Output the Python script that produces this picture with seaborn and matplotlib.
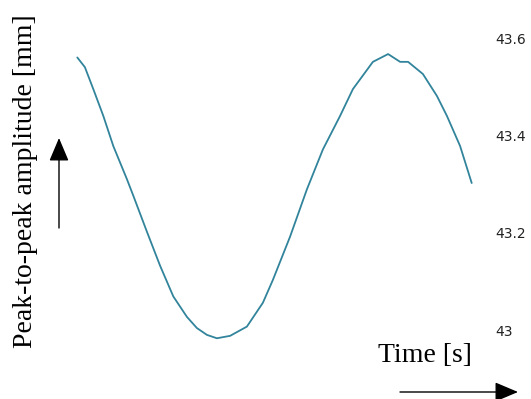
import matplotlib
matplotlib.use("Agg")
import matplotlib.pyplot as plt
import seaborn as sns
import pandas as pd

# Data
time_s = [0.0, 0.19, 0.40, 0.65, 0.90, 1.24, 1.40, 1.74, 2.07, 2.40, 2.74, 2.99,
          3.24, 3.49, 3.82, 4.24, 4.64, 4.89, 5.32, 5.74, 6.14, 6.57, 6.89, 7.39,
          7.77, 8.07, 8.27, 8.64, 8.99, 9.24, 9.57, 9.86]
amplitude_mm = [43.560, 43.540, 43.495, 43.440, 43.378, 43.310, 43.276, 43.202,
                43.132, 43.069, 43.027, 43.004, 42.990, 42.983, 42.988, 43.007,
                43.056, 43.103, 43.192, 43.289, 43.371, 43.440, 43.495, 43.551,
                43.567, 43.551, 43.551, 43.526, 43.481, 43.440, 43.378, 43.302]
y_ticks = [43.0, 43.2, 43.4, 43.6]
y_tick_labels = ["43", "43.2", "43.4", "43.6"]

df = pd.DataFrame({"Time": time_s, "Amplitude": amplitude_mm})

sns.set_style("white")
W, H = 531, 399
fig = plt.figure(figsize=(W / 100, H / 100), dpi=100)
left_px, right_px, top_px, bot_px = 77.3, 471.7, 38, 330
ax = fig.add_axes([left_px / W, 1 - bot_px / H, (right_px - left_px) / W, (bot_px - top_px) / H])

sns.lineplot(data=df, x="Time", y="Amplitude", ax=ax, color="#31849B", linewidth=1.3)
for l in ax.lines:
    l.set_clip_on(False)

ax.set_xlim(time_s[0], time_s[-1])
ax.set_ylim(43.0, 43.6)
for s in ax.spines.values():
    s.set_visible(False)
ax.set_xticks([])
ax.yaxis.tick_right()
ax.set_yticks(y_ticks)
ax.set_yticklabels(y_tick_labels)
ax.tick_params(axis="y", length=0, pad=17, labelsize=10, labelcolor="#222222")
for t in ax.get_yticklabels():
    t.set_fontfamily("DejaVu Sans")

serif = ["Liberation Serif", "DejaVu Serif"]
ax.set_ylabel("Peak-to-peak amplitude [mm]", fontsize=20, family=serif, color="black")
ax.yaxis.set_label_position("left")
ax.yaxis.set_label_coords((25 - left_px) / (right_px - left_px), (bot_px - 181.5) / (bot_px - top_px))
ax.yaxis.label.set_va("center")
ax.set_xlabel("Time [s]", fontsize=20, family=serif, color="black")
ax.xaxis.set_label_coords((425 - left_px) / (right_px - left_px), (bot_px - 355) / (bot_px - top_px))
ax.xaxis.label.set_va("center")

arrow = dict(arrowstyle="-|>,head_length=0.9,head_width=0.38", color="black", lw=1.0,
             mutation_scale=16, shrinkA=0, shrinkB=0)
ax.annotate("", xy=(59, H - 138), xytext=(59, H - 228), xycoords="figure pixels",
            textcoords="figure pixels", arrowprops=arrow)
ax.annotate("", xy=(518, H - 392), xytext=(400, H - 392), xycoords="figure pixels",
            textcoords="figure pixels", arrowprops=arrow)

fig.savefig("out.png", dpi=100)
